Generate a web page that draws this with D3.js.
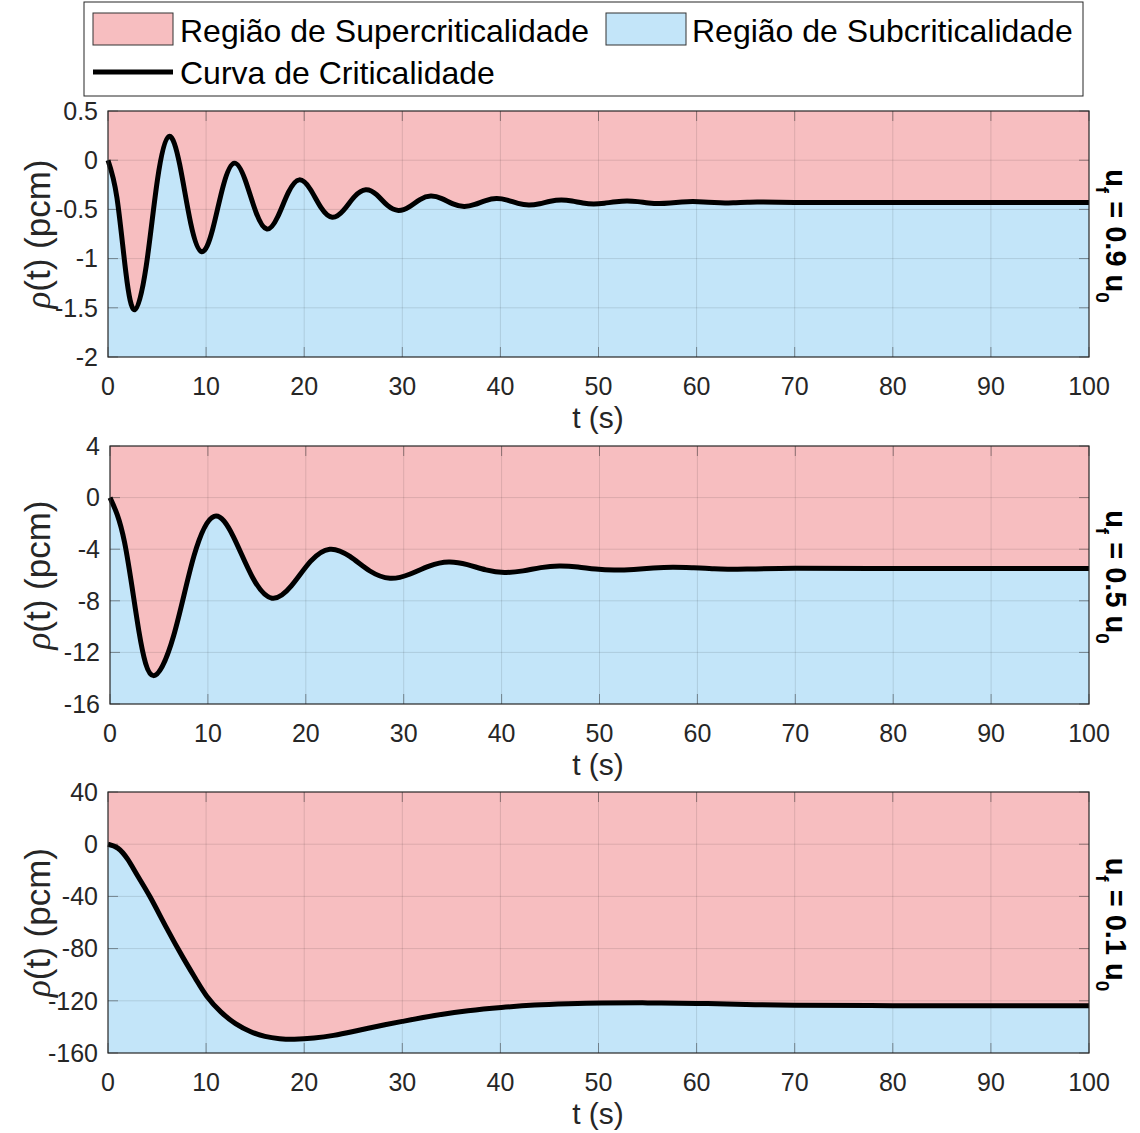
<!DOCTYPE html>
<html lang="en">
<head>
    <meta charset="UTF-8">
    <title>Curva de Criticalidade</title>
    <script src="https://d3js.org/d3.v7.min.js"></script>
    <style>
        body { margin: 0; background: #fff; }
        svg { display: block; font-family: "Liberation Sans", Arial, Helvetica, sans-serif; }
        .tick-label { fill: #262626; font-size: 25px; }
        .axis-label { fill: #262626; }
    </style>
</head>
<body>
<svg width="1140" height="1133"></svg>
<script>
    // time axis ticks
    const xTicks = [0, 10, 20, 30, 40, 50, 60, 70, 80, 90, 100];

    // u_f = 0.9 u_0
    const t09 = [0, 0.91, 1.82, 2.73, 3.89, 5.04, 6.2, 7.32, 8.43, 9.55, 10.66, 11.76, 12.87,
        13.98, 15.09, 16.2, 17.3, 18.4, 19.5, 20.62, 21.74, 22.86, 24.0, 25.13, 26.27,
        27.38, 28.49, 29.6, 30.7, 31.8, 32.9, 34.03, 35.17, 36.3, 37.4, 38.5, 39.6,
        40.7, 41.8, 42.9, 44.0, 45.1, 46.2, 47.3, 48.4, 49.5, 50.6, 51.8, 52.9,
        54.0, 55.1, 56.2, 57.3, 58.5, 59.6, 60.7, 61.8, 62.9, 64.0, 65.2, 66.3, 70, 80, 90, 100];
    const rho09 = [0, -0.38, -1.14, -1.52, -1.08, -0.20, 0.24, -0.05, -0.64, -0.93, -0.705, -0.255, -0.03,
        -0.2, -0.53, -0.70, -0.575, -0.325, -0.20, -0.295, -0.485, -0.58, -0.51, -0.37, -0.30,
        -0.35, -0.46, -0.51, -0.474, -0.40, -0.365, -0.39, -0.444, -0.47, -0.45, -0.41, -0.39,
        -0.406, -0.439, -0.455, -0.442, -0.417, -0.405, -0.415, -0.435, -0.445, -0.437, -0.422, -0.415,
        -0.421, -0.434, -0.44, -0.435, -0.425, -0.42, -0.424, -0.431, -0.435, -0.432, -0.428, -0.425,
        -0.43, -0.43, -0.43, -0.43];

    // u_f = 0.5 u_0
    const t05 = [0, 1.48, 2.95, 4.43, 6.5, 8.57, 10.64, 12.61, 14.58, 16.55, 18.52, 20.48, 22.45,
        24.5, 26.55, 28.6, 30.6, 32.6, 34.6, 36.5, 38.4, 40.3, 42.2, 44.0, 45.9, 47.8, 49.6, 51.5,
        53.5, 55.5, 57.5, 59.5, 61.5, 63.5, 70, 80, 90, 100];
    const rho05 = [0, -3.45, -10.35, -13.8, -10.71, -4.54, -1.45, -3.04, -6.21, -7.8, -6.85, -4.95, -4.0,
        -4.56, -5.69, -6.25, -5.94, -5.31, -5.0, -5.2, -5.6, -5.8, -5.68, -5.43, -5.3, -5.38, -5.54, -5.62,
        -5.57, -5.46, -5.4, -5.44, -5.51, -5.55, -5.48, -5.5, -5.5, -5.5];

    // u_f = 0.1 u_0
    const t01 = [0, 1, 2, 3, 4.27, 5.98, 7.68, 9, 10.07, 11.5, 13, 14.5, 16, 17.5, 19, 21, 23, 25, 27.5, 30,
        33.3, 36.7, 40.1, 43.5, 46.9, 50.3, 55, 60, 65, 70, 80, 90, 100];
    const rho01 = [0, -3, -11.5, -24, -40.1, -64.3, -87.3, -104, -116.5, -128.5, -137.5, -143.5, -147.3, -149,
        -149.4, -148.5, -146.5, -143.5, -139.5, -135.8, -131.2, -127.6, -125.1, -123.3, -122.3, -121.7,
        -121.6, -122, -122.8, -123.4, -123.7, -123.7, -123.7];

    const yTicks09 = [0.5, 0, -0.5, -1, -1.5, -2];
    const yTicks05 = [4, 0, -4, -8, -12, -16];
    const yTicks01 = [40, 0, -40, -80, -120, -160];

    const sideLabels = ["0.9", "0.5", "0.1"];
    const legendLabels = ["Região de Supercriticalidade", "Região de Subcriticalidade", "Curva de Criticalidade"];

    const PINK = "#f7bec0", BLUE = "#c3e5f9";

    const panels = [
        { t: t09, rho: rho09, ticks: yTicks09, left: 108, top: 111, bottom: 357, u: sideLabels[0] },
        { t: t05, rho: rho05, ticks: yTicks05, left: 110, top: 446, bottom: 704, u: sideLabels[1] },
        { t: t01, rho: rho01, ticks: yTicks01, left: 108, top: 792, bottom: 1053, u: sideLabels[2] }
    ];
    const right = 1089;
    const curve = d3.curveNatural;

    const svg = d3.select("svg");

    panels.forEach(function (p) {
        const data = p.t.map((t, i) => ({ t: t, v: p.rho[i] }));
        const x = d3.scaleLinear().domain([0, 100]).range([p.left, right]);
        const y = d3.scaleLinear().domain([d3.min(p.ticks), d3.max(p.ticks)]).range([p.bottom, p.top]);
        const g = svg.append("g");

        // regions
        g.append("path").datum(data)
            .attr("fill", PINK)
            .attr("d", d3.area().curve(curve).x(d => x(d.t)).y0(p.top).y1(d => y(d.v)));
        g.append("path").datum(data)
            .attr("fill", BLUE)
            .attr("d", d3.area().curve(curve).x(d => x(d.t)).y0(p.bottom).y1(d => y(d.v)));

        // grid
        g.selectAll(".gx").data(xTicks.slice(1, -1)).enter().append("line")
            .attr("x1", d => x(d)).attr("x2", d => x(d))
            .attr("y1", p.top).attr("y2", p.bottom)
            .attr("stroke", "#000").attr("stroke-opacity", 0.11).attr("stroke-width", 1);
        g.selectAll(".gy").data(p.ticks.slice(1, -1)).enter().append("line")
            .attr("x1", p.left).attr("x2", right)
            .attr("y1", d => y(d)).attr("y2", d => y(d))
            .attr("stroke", "#000").attr("stroke-opacity", 0.11).attr("stroke-width", 1);

        // inner ticks
        const tl = 10;
        xTicks.forEach(function (d) {
            g.append("line").attr("x1", x(d)).attr("x2", x(d)).attr("y1", p.bottom).attr("y2", p.bottom - tl)
                .attr("stroke", "#262626").attr("stroke-opacity", 0.45);
            g.append("line").attr("x1", x(d)).attr("x2", x(d)).attr("y1", p.top).attr("y2", p.top + tl)
                .attr("stroke", "#262626").attr("stroke-opacity", 0.45);
        });
        p.ticks.forEach(function (d) {
            g.append("line").attr("x1", p.left).attr("x2", p.left + tl).attr("y1", y(d)).attr("y2", y(d))
                .attr("stroke", "#262626").attr("stroke-opacity", 0.45);
            g.append("line").attr("x1", right).attr("x2", right - tl).attr("y1", y(d)).attr("y2", y(d))
                .attr("stroke", "#262626").attr("stroke-opacity", 0.45);
        });

        // curve
        g.append("path").datum(data)
            .attr("fill", "none").attr("stroke", "#000").attr("stroke-width", 5)
            .attr("stroke-linejoin", "round")
            .attr("d", d3.line().curve(curve).x(d => x(d.t)).y(d => y(d.v)));

        // box
        g.append("rect").attr("x", p.left).attr("y", p.top)
            .attr("width", right - p.left).attr("height", p.bottom - p.top)
            .attr("fill", "none").attr("stroke", "#262626").attr("stroke-width", 1.2);

        // tick labels
        g.selectAll(".xl").data(xTicks).enter().append("text")
            .attr("class", "tick-label").attr("text-anchor", "middle")
            .attr("x", d => x(d)).attr("y", p.bottom + 38).text(d => d);
        g.selectAll(".yl").data(p.ticks).enter().append("text")
            .attr("class", "tick-label").attr("text-anchor", "end")
            .attr("x", p.left - 10).attr("y", d => y(d)).attr("dy", "0.35em").text(d => d);

        // axis labels
        g.append("text").attr("class", "axis-label").attr("text-anchor", "middle")
            .attr("x", 598).attr("y", p.bottom + 71).style("font-size", "30px").text("t (s)");
        const yl = g.append("text").attr("class", "axis-label").attr("text-anchor", "middle")
            .attr("transform", `translate(50,${(p.top + p.bottom) / 2}) rotate(-90)`)
            .style("font-size", "35px");
        yl.append("tspan").style("font-style", "italic").style("font-family", "'Liberation Serif', serif").text("ρ");
        yl.append("tspan").text("(t) (pcm)");

        // side label u_f = x u_0
        const sl = g.append("text").attr("text-anchor", "middle")
            .attr("transform", `translate(1106,${(p.top + p.bottom) / 2 + 2}) rotate(90)`)
            .style("font-size", "29px").style("font-weight", "bold").attr("fill", "#000");
        sl.append("tspan").text("u");
        sl.append("tspan").attr("dy", 10).style("font-size", "19px").text("f");
        sl.append("tspan").attr("dy", -10).text(" = " + p.u + " u");
        sl.append("tspan").attr("dy", 10).style("font-size", "19px").text("0");
    });

    // legend
    const lg = svg.append("g");
    lg.append("rect").attr("x", 84).attr("y", 2).attr("width", 999).attr("height", 94)
        .attr("fill", "#fff").attr("stroke", "#262626").attr("stroke-width", 1);
    lg.append("rect").attr("x", 93).attr("y", 13).attr("width", 80).attr("height", 32)
        .attr("fill", PINK).attr("stroke", "#333").attr("stroke-width", 1);
    lg.append("rect").attr("x", 606).attr("y", 13).attr("width", 80).attr("height", 32)
        .attr("fill", BLUE).attr("stroke", "#333").attr("stroke-width", 1);
    lg.append("line").attr("x1", 93).attr("x2", 173).attr("y1", 72).attr("y2", 72)
        .attr("stroke", "#000").attr("stroke-width", 5);
    [[180, 42], [692, 42], [180, 84]].forEach(function (pos, i) {
        lg.append("text").attr("x", pos[0]).attr("y", pos[1])
            .style("font-size", "32px").attr("fill", "#000").text(legendLabels[i]);
    });
</script>
</body>
</html>
